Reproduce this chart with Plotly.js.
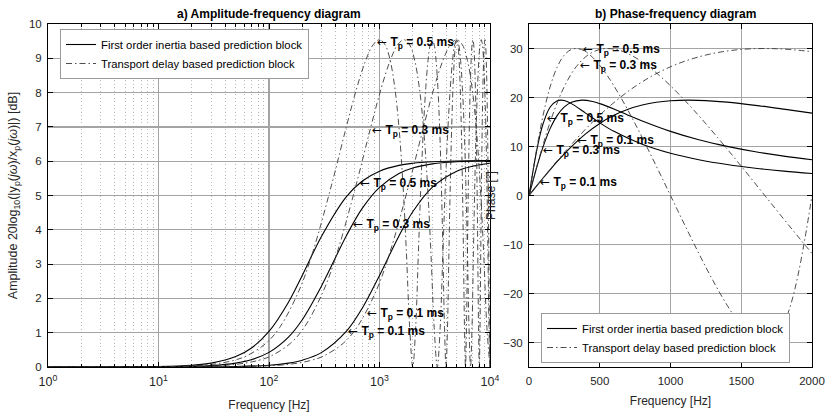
<!DOCTYPE html>
<html><head><meta charset="utf-8">
<script src="https://cdn.plot.ly/plotly-3.0.1.min.js"></script>
<style>html,body{margin:0;padding:0;background:#fff}#chart{width:827px;height:415px}</style>
</head><body><div id="chart"></div>
<script>
// ---------- a) Amplitude-frequency data (frequency in Hz, amplitude in dB) ----------
const ampSolidFreq05 = [1, 3, 10, 20, 30, 50, 70, 100, 150, 200, 300, 500, 700, 1000, 1500, 2000, 3000, 5000, 10000];
const ampSolid05 = [0, 0.001, 0.013, 0.051, 0.113, 0.303, 0.563, 1.036, 1.890, 2.670, 3.822, 4.962, 5.423, 5.710, 5.878, 5.939, 5.984, 6.007, 6.017];

const ampSolidFreq03 = [1, 3, 10, 20, 30, 50, 70, 100, 150, 200, 300, 500, 700, 1000, 1500, 2000, 3000, 5000, 10000];
const ampSolid03 = [0, 0, 0.005, 0.018, 0.041, 0.113, 0.217, 0.426, 0.871, 1.378, 2.373, 3.822, 4.632, 5.239, 5.642, 5.801, 5.921, 5.984, 6.011];

const ampSolidFreq01 = [1, 3, 10, 30, 50, 100, 150, 200, 300, 500, 700, 1000, 1500, 2000, 3000, 5000, 7000, 10000];
const ampSolid01 = [0, 0, 0.001, 0.005, 0.013, 0.051, 0.113, 0.198, 0.426, 1.036, 1.721, 2.670, 3.822, 4.528, 5.239, 5.710, 5.857, 5.939];

const ampDelayFreq05 = [1, 5, 15.625, 31.25, 46.875, 62.5, 93.75, 125, 187.5, 250, 375, 500, 625, 750, 875, 1000,
  1125, 1250, 1375, 1500, 1625, 1750, 1875, 2000,
  2125, 2250, 2375, 2500, 2625, 2750, 2875, 3000,
  3125, 3250, 3375, 3500, 3625, 3750, 3875, 4000,
  4125, 4250, 4375, 4500, 4625, 4750, 4875, 5000,
  5125, 5250, 5375, 5500, 5625, 5750, 5875, 6000,
  6125, 6250, 6375, 6500, 6625, 6750, 6875, 7000,
  7125, 7250, 7375, 7500, 7625, 7750, 7875, 8000,
  8125, 8250, 8375, 8500, 8625, 8750, 8875, 9000,
  9125, 9250, 9375, 9500, 9625, 9750, 9875, 10000];
const ampDelay05 = [0, 0.002, 0.021, 0.083, 0.184, 0.322, 0.690, 1.154, 2.238, 3.368, 5.403, 6.990, 8.150, 8.937, 9.393, 9.542,
  9.393, 8.937, 8.150, 6.990, 5.403, 3.368, 1.154, 0,
  1.154, 3.368, 5.403, 6.990, 8.150, 8.937, 9.393, 9.542,
  9.393, 8.937, 8.150, 6.990, 5.403, 3.368, 1.154, 0,
  1.154, 3.368, 5.403, 6.990, 8.150, 8.937, 9.393, 9.542,
  9.393, 8.937, 8.150, 6.990, 5.403, 3.368, 1.154, 0,
  1.154, 3.368, 5.403, 6.990, 8.150, 8.937, 9.393, 9.542,
  9.393, 8.937, 8.150, 6.990, 5.403, 3.368, 1.154, 0,
  1.154, 3.368, 5.403, 6.990, 8.150, 8.937, 9.393, 9.542,
  9.393, 8.937, 8.150, 6.990, 5.403, 3.368, 1.154, 0];

const ampDelayFreq03 = [1, 10, 26.04, 52.08, 78.13, 104.17, 156.25, 208.33, 312.5, 416.67, 625, 833.33, 1041.67, 1250, 1458.33, 1666.67,
  1875, 2083.33, 2291.67, 2500, 2708.33, 2916.67, 3125, 3333.33,
  3541.67, 3750, 3958.33, 4166.67, 4375, 4583.33, 4791.67, 5000,
  5208.33, 5416.67, 5625, 5833.33, 6041.67, 6250, 6458.33, 6666.67,
  6875, 7083.33, 7291.67, 7500, 7708.33, 7916.67, 8125, 8333.33,
  8541.67, 8750, 8958.33, 9166.67, 9375, 9583.33, 9791.67, 10000];
const ampDelay03 = [0, 0.003, 0.021, 0.083, 0.184, 0.322, 0.690, 1.154, 2.238, 3.368, 5.403, 6.990, 8.150, 8.937, 9.393, 9.542,
  9.393, 8.937, 8.150, 6.990, 5.403, 3.368, 1.154, 0,
  1.154, 3.368, 5.403, 6.990, 8.150, 8.937, 9.393, 9.542,
  9.393, 8.937, 8.150, 6.990, 5.403, 3.368, 1.154, 0,
  1.154, 3.368, 5.403, 6.990, 8.150, 8.937, 9.393, 9.542,
  9.393, 8.937, 8.150, 6.990, 5.403, 3.368, 1.154, 0];

const ampDelayFreq01 = [1, 10, 30, 78.13, 156.25, 234.38, 312.5, 468.75, 625, 937.5, 1250, 1875, 2500, 3125, 3750, 4375, 5000,
  5625, 6250, 6875, 7500, 8125, 8750, 9375, 10000];
const ampDelay01 = [0, 0, 0.003, 0.021, 0.083, 0.184, 0.322, 0.690, 1.154, 2.238, 3.368, 5.403, 6.990, 8.150, 8.937, 9.393, 9.542,
  9.393, 8.937, 8.150, 6.990, 5.403, 3.368, 1.154, 0];

// ---------- b) Phase-frequency data (frequency in Hz, phase in degrees) ----------
const phSolidFreq05 = [0, 25, 50, 75, 100, 150, 200, 225, 250, 300, 400, 500, 600, 800, 1000, 1200, 1400, 1600, 1800, 2000];
const phSolid05 = [0, 4.44, 8.51, 11.97, 14.70, 18.07, 19.34, 19.47, 19.37, 18.75, 16.81, 14.82, 13.09, 10.45, 8.61, 7.30, 6.32, 5.57, 4.98, 4.49];

const phSolidFreq03 = [0, 25, 50, 75, 100, 150, 200, 250, 300, 375, 450, 500, 600, 700, 800, 1000, 1200, 1400, 1600, 1800, 2000];
const phSolid03 = [0, 2.69, 5.29, 7.74, 9.98, 13.70, 16.36, 18.07, 19.03, 19.47, 19.18, 18.75, 17.63, 16.40, 15.21, 13.09, 11.38, 10.03, 8.93, 8.04, 7.30];

const phSolidFreq01 = [0, 50, 100, 150, 200, 300, 400, 500, 600, 700, 800, 900, 1000, 1125, 1250, 1400, 1600, 1800, 2000];
const phSolid01 = [0, 1.80, 3.57, 5.29, 6.95, 9.98, 12.58, 14.70, 16.36, 17.60, 18.46, 19.03, 19.34, 19.47, 19.37, 19.05, 18.40, 17.63, 16.81];

const phDelayFreq05 = [0, 50, 100, 150, 200, 250, 300, 350, 400, 450, 500, 550, 600, 650, 700, 750, 800, 850, 900, 950, 1000,
  1050, 1100, 1150, 1200, 1250, 1300, 1350, 1400, 1450, 1500, 1550, 1600, 1650, 1700, 1750, 1800, 1850, 1900, 1950, 2000];
const phDelay05 = [0, 8.79, 16.41, 22.26, 26.27, 28.67, 29.81, 29.95, 29.36, 28.18, 26.57, 24.61, 22.39, 19.95, 17.36, 14.64, 11.82, 8.92, 5.98, 3.00, 0,
  -3.00, -5.98, -8.92, -11.82, -14.64, -17.36, -19.95, -22.39, -24.61, -26.57, -28.18, -29.36, -29.95, -29.81, -28.67, -26.27, -22.26, -16.41, -8.79, 0];

const phDelayFreq03 = [0, 83.33, 166.67, 250, 333.33, 416.67, 500, 583.33, 666.67, 750, 833.33, 916.67, 1000, 1083.33, 1166.67, 1250,
  1333.33, 1416.67, 1500, 1583.33, 1666.67, 1750, 1833.33, 1916.67, 2000];
const phDelay03 = [0, 8.79, 16.41, 22.26, 26.27, 28.67, 29.81, 29.95, 29.36, 28.18, 26.57, 24.61, 22.39, 19.95, 17.36, 14.64,
  11.82, 8.92, 5.98, 3.00, 0, -3.00, -5.98, -8.92, -11.82];

const phDelayFreq01 = [0, 250, 500, 750, 1000, 1250, 1500, 1750, 2000];
const phDelay01 = [0, 8.79, 16.41, 22.26, 26.27, 28.67, 29.81, 29.95, 29.36];

// ---------- labels ----------
const ampLabelFreq = [950, 850, 666, 579, 766, 522];
const ampLabelVal = [9.47, 6.9, 5.36, 4.17, 1.57, 1.05];
const ampLabelTp = ['0.5', '0.3', '0.5', '0.3', '0.1', '0.1'];
const phLabelFreq = [384, 360, 125, 337, 97, 78];
const phLabelVal = [29.96, 26.7, 15.8, 11.4, 9.2, 2.7];
const phLabelTp = ['0.5', '0.3', '0.5', '0.1', '0.3', '0.1'];

const logTickVals = [1, 10, 100, 1000, 10000];
const logTickText = ['10<sup>0</sup>', '10<sup>1</sup>', '10<sup>2</sup>', '10<sup>3</sup>', '10<sup>4</sup>'];
const nameSolid = 'First order inertia based prediction block';
const nameDelay = 'Transport delay based prediction block';

// ---------- styles ----------
const FONT = 'Liberation Sans, Arial, Helvetica, sans-serif';
const solidLine = {color: '#000000', width: 1.1, shape: 'spline'};
const delayLine = {color: '#3a3a3a', width: 0.9, dash: '6px,3px,1.5px,3px', shape: 'spline'};

function tr(x, y, line, xa, ya, name, show, legend) {
  return {x: x, y: y, type: 'scatter', mode: 'lines', line: line, xaxis: xa, yaxis: ya,
    name: name, showlegend: show, legend: legend, hoverinfo: 'skip'};
}

const data = [
  tr(ampSolidFreq05, ampSolid05, solidLine, 'x', 'y', nameSolid, true, 'legend'),
  tr(ampDelayFreq05, ampDelay05, delayLine, 'x', 'y', nameDelay, true, 'legend'),
  tr(ampSolidFreq03, ampSolid03, solidLine, 'x', 'y', nameSolid, false, 'legend'),
  tr(ampSolidFreq01, ampSolid01, solidLine, 'x', 'y', nameSolid, false, 'legend'),
  tr(ampDelayFreq03, ampDelay03, delayLine, 'x', 'y', nameDelay, false, 'legend'),
  tr(ampDelayFreq01, ampDelay01, delayLine, 'x', 'y', nameDelay, false, 'legend'),
  tr(phSolidFreq05, phSolid05, solidLine, 'x2', 'y2', nameSolid, true, 'legend2'),
  tr(phDelayFreq05, phDelay05, delayLine, 'x2', 'y2', nameDelay, true, 'legend2'),
  tr(phSolidFreq03, phSolid03, solidLine, 'x2', 'y2', nameSolid, false, 'legend2'),
  tr(phSolidFreq01, phSolid01, solidLine, 'x2', 'y2', nameSolid, false, 'legend2'),
  tr(phDelayFreq03, phDelay03, delayLine, 'x2', 'y2', nameDelay, false, 'legend2'),
  tr(phDelayFreq01, phDelay01, delayLine, 'x2', 'y2', nameDelay, false, 'legend2')
];

const W = 827, H = 415;
const px = v => v / W, py = v => 1 - v / H;

const minorVals = [];
[1, 10, 100, 1000].forEach(d => { for (let m = 2; m <= 9; m++) minorVals.push(d * m); });

const axisCommon = {
  showline: true, linecolor: '#000', linewidth: 1, mirror: 'ticks',
  ticks: 'inside', ticklen: 5, tickcolor: '#000', tickwidth: 1,
  showgrid: true, gridcolor: '#a4a4a4', gridwidth: 1.2, zeroline: false,
  tickfont: {family: FONT, size: 11.5, color: '#262626'}, ticklabelstandoff: 3
};

const ARROW = '<span style="font-family:DejaVu Sans">\u2190</span>';
const annotations = [];
ampLabelFreq.forEach((f, i) => annotations.push({
  xref: 'x', yref: 'y', x: Math.log10(f), y: ampLabelVal[i],
  text: ARROW + ' <b>T<sub>p</sub> = ' + ampLabelTp[i] + ' ms</b>',
  showarrow: false, xanchor: 'left', yanchor: 'middle', xshift: -2, yshift: -1, font: {family: FONT, size: 12, color: '#000'}
}));
phLabelFreq.forEach((f, i) => annotations.push({
  xref: 'x2', yref: 'y2', x: f, y: phLabelVal[i],
  text: ARROW + ' <b>T<sub>p</sub> = ' + phLabelTp[i] + ' ms</b>',
  showarrow: false, xanchor: 'left', yanchor: 'middle', xshift: -2, yshift: -1, font: {family: FONT, size: 12, color: '#000'}
}));
annotations.push({xref: 'paper', yref: 'paper', x: px(269), y: py(14), xanchor: 'center', yanchor: 'middle',
  text: '<b>a) Amplitude-frequency diagram</b>', showarrow: false, font: {family: FONT, size: 12, color: '#000'}});
annotations.push({xref: 'paper', yref: 'paper', x: px(675), y: py(14), xanchor: 'center', yanchor: 'middle',
  text: '<b>b) Phase-frequency diagram</b>', showarrow: false, font: {family: FONT, size: 12, color: '#000'}});

const legendCommon = {
  xanchor: 'left', yanchor: 'middle', bgcolor: '#ffffff', bordercolor: '#9a9a9a', borderwidth: 1,
  font: {family: FONT, size: 11.3, color: '#000'}, tracegroupgap: 0, itemwidth: 30
};

const layout = {
  width: W, height: H, margin: {l: 0, r: 0, t: 0, b: 0},
  paper_bgcolor: '#fff', plot_bgcolor: '#fff',
  font: {family: FONT, size: 11, color: '#262626'},
  showlegend: true,
  legend: Object.assign({x: px(60), y: py(54)}, legendCommon),
  legend2: Object.assign({x: px(541), y: py(338)}, legendCommon),
  xaxis: Object.assign({}, axisCommon, {
    type: 'log', domain: [px(48), px(490)], range: [0, 4], anchor: 'y',
    tickmode: 'array', tickvals: logTickVals, ticktext: logTickText,
    tickfont: {family: FONT, size: 12.5, color: '#262626'},
    minor: {tickmode: 'array', tickvals: minorVals, ticks: 'inside', ticklen: 3, tickcolor: '#000',
      showgrid: true, gridcolor: '#b8b8b8', griddash: '1px,2.5px', gridwidth: 1},
    title: {text: 'Frequency [Hz]', font: {family: FONT, size: 12, color: '#262626'}, standoff: 12}
  }),
  yaxis: Object.assign({}, axisCommon, {
    domain: [1 - 367 / H, 1 - 24 / H], range: [0, 10], dtick: 1, anchor: 'x',
    title: {text: 'Amplitude 20log<sub>10</sub>(|y<sub>p</sub>(<i>j\u03c9</i>)/x<sub>p</sub>(<i>j\u03c9</i>)|) [dB]',
      font: {family: FONT, size: 12.5, color: '#262626'}, standoff: 8}
  }),
  xaxis2: Object.assign({}, axisCommon, {
    domain: [px(529), px(812)], range: [0, 2000], tickvals: [0, 500, 1000, 1500, 2000], anchor: 'y2',
    title: {text: 'Frequency [Hz]', font: {family: FONT, size: 12, color: '#262626'}, standoff: 10}
  }),
  yaxis2: Object.assign({}, axisCommon, {
    domain: [1 - 367 / H, 1 - 24 / H], range: [-35, 35], tickvals: [-30, -20, -10, 0, 10, 20, 30], anchor: 'x2',
    title: {text: 'Phase [\u00b0]', font: {family: FONT, size: 12, color: '#262626'}, standoff: 4}
  }),
  annotations: annotations
};

Plotly.newPlot('chart', data, layout, {staticPlot: true, displayModeBar: false});
</script></body></html>
